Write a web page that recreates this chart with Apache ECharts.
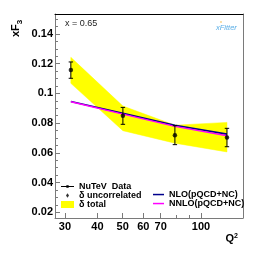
<!DOCTYPE html>
<html><head><meta charset="utf-8">
<script src="https://cdn.jsdelivr.net/npm/echarts@6/dist/echarts.min.js"></script>
<style>html,body{margin:0;padding:0;background:#fff}#c{width:266px;height:253px}</style>
</head><body><div id="c"></div>
<script>
// ---- data ----
const q2 = [31.6, 50.1, 79.4, 125.9];
const xf3 = [0.1157, 0.0849, 0.0719, 0.0703];
const errUncorr = [0.0055, 0.0057, 0.0064, 0.0062];
const bandLow = [0.1068, 0.0749, 0.0665, 0.0606];
const bandHigh = [0.1243, 0.0915, 0.0786, 0.0805];
const nlo = [0.0946, 0.0866, 0.0786, 0.0726];
const nnlo = [0.0944, 0.0861, 0.0778, 0.0715];
const xTickLabels = [30, 40, 50, 60, 70, 100];
const xMinorTicks = [80, 90];
const yTickLabels = [0.02, 0.04, 0.06, 0.08, 0.1, 0.12, 0.14];
const yMinorTicks = [0.025, 0.03, 0.035, 0.045, 0.05, 0.055, 0.065, 0.07, 0.075, 0.085, 0.09, 0.095, 0.105, 0.11, 0.115, 0.125, 0.13, 0.135, 0.145, 0.15];

const FONT = '"Liberation Sans", Arial, Helvetica, sans-serif';
const L = v => Math.log10(v);
const X_MIN = 1.4387, X_MAX = 2.1617, Y_MIN = 0.0161, Y_MAX = 0.1535;
const AX = '#7a7a7a';

const chart = echarts.init(document.getElementById('c'), null, {renderer: 'canvas'});

const xBase = {type: 'value', min: X_MIN, max: X_MAX, splitLine: {show: false}};
const yBase = {type: 'value', min: Y_MIN, max: Y_MAX, splitLine: {show: false}};

chart.setOption({
  animation: false,
  backgroundColor: '#fff',
  grid: {left: 55, right: 23, top: 14, bottom: 35},
  xAxis: [
    Object.assign({}, xBase, {
      position: 'bottom',
      axisLine: {show: true, lineStyle: {color: AX, width: 1}},
      axisTick: {show: true, inside: true, length: 5, lineStyle: {color: AX}, customValues: xTickLabels.map(L)},
      axisLabel: {show: true, margin: 3, customValues: xTickLabels.map(L), fontFamily: FONT, fontWeight: 'bold', fontSize: 11, color: '#000',
        formatter: v => String(Math.round(Math.pow(10, v)))}
    }),
    Object.assign({}, xBase, {
      position: 'bottom',
      axisLine: {show: false},
      axisTick: {show: true, inside: true, length: 3, lineStyle: {color: AX}, customValues: xMinorTicks.map(L)},
      axisLabel: {show: false}
    }),
    Object.assign({}, xBase, {
      position: 'top',
      axisLine: {show: true, lineStyle: {color: '#000', width: 1}},
      axisTick: {show: false}, axisLabel: {show: false}
    })
  ],
  yAxis: [
    Object.assign({}, yBase, {
      position: 'left',
      axisLine: {show: true, lineStyle: {color: AX, width: 1}},
      axisTick: {show: true, inside: true, length: 5, lineStyle: {color: AX}, customValues: yTickLabels},
      axisLabel: {show: true, margin: 2, customValues: yTickLabels, fontFamily: FONT, fontWeight: 'bold', fontSize: 11, color: '#000',
        formatter: v => String(+v.toFixed(2))}
    }),
    Object.assign({}, yBase, {
      position: 'left',
      axisLine: {show: false},
      axisTick: {show: true, inside: true, length: 3, lineStyle: {color: AX}, customValues: yMinorTicks},
      axisLabel: {show: false}
    }),
    Object.assign({}, yBase, {
      position: 'right',
      axisLine: {show: true, lineStyle: {color: AX, width: 1}},
      axisTick: {show: false}, axisLabel: {show: false}
    })
  ],
  legend: [
    {
      orient: 'vertical', left: 61, top: 182, padding: 0, itemGap: 0,
      itemWidth: 13, itemHeight: 7, selectedMode: false, symbolKeepAspect: true,
      itemStyle: {borderWidth: 0},
      textStyle: {fontFamily: FONT, fontWeight: 'bold', fontSize: 9, lineHeight: 9, color: '#000'},
      data: [
        {name: 'NuTeV  Data', icon: 'path://M0,0M13,7M0,3L13,3L13,4L0,4Z M5.6,2.2L7.4,2.2L8.3,3.5L7.4,4.8L5.6,4.8L4.7,3.5Z'},
        {name: 'δ uncorrelated', icon: 'path://M0,0M13,7M6.5,1.2L8,3.5L6.5,5.8L5,3.5Z'},
        {name: 'δ total', icon: 'rect'}
      ]
    },
    {
      orient: 'vertical', left: 153, top: 190, padding: 0, itemGap: 0,
      itemWidth: 11, itemHeight: 7, selectedMode: false, symbolKeepAspect: true,
      itemStyle: {borderWidth: 0},
      textStyle: {fontFamily: FONT, fontWeight: 'bold', fontSize: 9, lineHeight: 9, color: '#000'},
      data: [
        {name: 'NLO(pQCD+NC)', icon: 'path://M0,0M11,7M0,2.8L11,2.8L11,4.3L0,4.3Z'},
        {name: 'NNLO(pQCD+NC)', icon: 'path://M0,0M11,7M0,2.8L11,2.8L11,4.3L0,4.3Z'}
      ]
    }
  ],
  series: [
    {
      name: 'δ total', type: 'custom', xAxisIndex: 0, yAxisIndex: 0, z: 1, clip: true,
      itemStyle: {color: '#ffff00'},
      data: q2.map((q, i) => [L(q), bandLow[i], bandHigh[i]]),
      encode: {x: 0, y: [1, 2]},
      renderItem: (params, api) => {
        if (params.dataIndex !== 0) return null;
        const pts = [];
        for (let i = 0; i < q2.length; i++) pts.push(api.coord([L(q2[i]), bandHigh[i]]));
        for (let i = q2.length - 1; i >= 0; i--) pts.push(api.coord([L(q2[i]), bandLow[i]]));
        return {type: 'polygon', shape: {points: pts}, style: {fill: '#ffff00', stroke: '#ffff00', lineWidth: 0.5}};
      }
    },
    {
      name: 'NLO(pQCD+NC)', type: 'line', z: 3, xAxisIndex: 0, yAxisIndex: 0,
      data: q2.map((q, i) => [L(q), nlo[i]]),
      showSymbol: false, symbol: 'none',
      itemStyle: {color: '#00008c'},
      lineStyle: {color: '#00008c', width: 1.6}
    },
    {
      name: 'NNLO(pQCD+NC)', type: 'line', z: 4, xAxisIndex: 0, yAxisIndex: 0,
      data: q2.map((q, i) => [L(q), nnlo[i]]),
      showSymbol: false, symbol: 'none',
      itemStyle: {color: '#ff00ff'},
      lineStyle: {color: '#ff00ff', width: 1.4}
    },
    {
      name: 'NuTeV  Data', type: 'custom', z: 5, xAxisIndex: 0, yAxisIndex: 0,
      itemStyle: {color: '#000'},
      data: q2.map((q, i) => [L(q), xf3[i], errUncorr[i]]),
      encode: {x: 0, y: 1},
      renderItem: (params, api) => {
        const x = api.value(0), y = api.value(1), e = api.value(2);
        const t = api.coord([x, y + e]), b = api.coord([x, y - e]);
        const w = 2.2;
        const st = {stroke: '#000', lineWidth: 1};
        return {type: 'group', children: [
          {type: 'line', shape: {x1: t[0], y1: t[1], x2: b[0], y2: b[1]}, style: st},
          {type: 'line', shape: {x1: t[0] - w, y1: t[1], x2: t[0] + w, y2: t[1]}, style: st},
          {type: 'line', shape: {x1: b[0] - w, y1: b[1], x2: b[0] + w, y2: b[1]}, style: st}
        ]};
      }
    },
    {
      name: 'δ uncorrelated', type: 'scatter', z: 6, xAxisIndex: 0, yAxisIndex: 0,
      data: q2.map((q, i) => [L(q), xf3[i]]),
      symbol: 'circle', symbolSize: 4.5,
      itemStyle: {color: '#000'}
    }
  ],
  graphic: [
    {type: 'text', left: 65, top: 19, style: {text: 'x = 0.65', fontFamily: FONT, fontSize: 9, fill: '#222'}},
    {type: 'text', left: 216, top: 24, style: {text: 'xFitter', fontFamily: FONT, fontStyle: 'italic', fontSize: 7.5, fill: '#5aaee6'}},
    {type: 'circle', shape: {cx: 221, cy: 22, r: 0.8}, style: {fill: '#f2b640'}},
    {type: 'group', x: 21, y: 37, rotation: Math.PI / 2, children: [
      {type: 'text', x: 0, y: 0, style: {text: 'xF', fontFamily: FONT, fontWeight: 'bold', fontSize: 11, fill: '#000', align: 'left', verticalAlign: 'bottom'}},
      {type: 'text', x: 12.8, y: 2.5, style: {text: '3', fontFamily: FONT, fontWeight: 'bold', fontSize: 8, fill: '#000', align: 'left', verticalAlign: 'bottom'}}
    ]},
    {type: 'text', x: 225.5, y: 244, style: {text: 'Q', fontFamily: FONT, fontWeight: 'bold', fontSize: 11, fill: '#000', align: 'left', verticalAlign: 'bottom'}},
    {type: 'text', x: 234, y: 239.5, style: {text: '2', fontFamily: FONT, fontWeight: 'bold', fontSize: 7, fill: '#000', align: 'left', verticalAlign: 'bottom'}}
  ]
});
</script>
</body></html>
